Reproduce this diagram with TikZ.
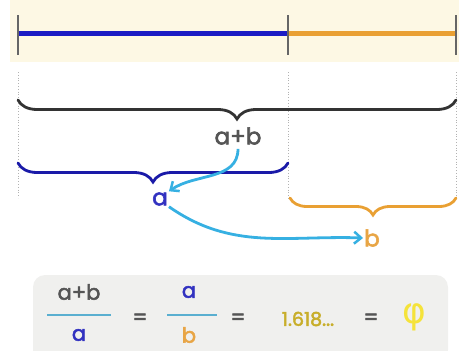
\documentclass[tikz,border=0pt]{standalone}
\usepackage{fontspec}
\setmainfont{Poppins}
\newfontfamily\labfont{Poppins}[FakeBold=2.5]
\newfontfamily\phifont{DejaVu Sans}
\usetikzlibrary{decorations.pathreplacing,arrows.meta}
\definecolor{cream}{HTML}{FDF8E4}
\definecolor{segblue}{HTML}{1C1CC4}
\definecolor{segorange}{HTML}{E9A033}
\definecolor{bracegray}{HTML}{333333}
\definecolor{braceblue}{HTML}{1A1AA8}
\definecolor{arrowcyan}{HTML}{36B0E2}
\definecolor{labgray}{HTML}{555555}
\definecolor{labblue}{HTML}{3232C0}
\definecolor{laborange}{HTML}{E8A545}
\definecolor{boxgray}{HTML}{F0F0EE}
\definecolor{fracline}{HTML}{5AAFD0}
\definecolor{olive}{HTML}{C8AE2A}
\definecolor{phiyellow}{HTML}{F5E33A}
\tikzset{
  tick/.style={draw=gray!80!black, line width=1.6pt},
  seg/.style={line width=5pt},
  guide/.style={draw=gray!60, dotted, line width=0.8pt},
  bracestyle/.style={decorate, decoration={brace, amplitude=#1}, line width=2.8pt, line cap=round},
  lab/.style={inner sep=1pt, font=\labfont\fontsize{23}{24}\selectfont},
  flow/.style={draw=arrowcyan, line width=2.8pt, -{Straight Barb[length=7pt,width=12pt,line width=2.5pt]}},
  eqtext/.style={inner sep=1pt, font=\labfont\fontsize{21}{22}\selectfont},
  fbar/.style={draw=fracline, line width=1.4pt},
}
\begin{document}
\begin{tikzpicture}[x=1pt,y=-1pt]
\useasboundingbox (0,0) rectangle (459,351);
% top band
\fill[cream] (10,0) rectangle (459,62);
\coordinate (A) at (18,33);
\coordinate (M) at (288,33);
\coordinate (B) at (456,33);
\draw[seg, segblue] (A) -- (M);
\draw[seg, segorange] (M) -- (B);
\draw[tick] (18,15) -- (18,55);
\draw[tick] (288,15) -- (288,55);
\draw[tick] (456,15) -- (456,55);
% dotted guides
\draw[guide] (18,72) -- (18,198);
\draw[guide] (288,72) -- (288,200);
\draw[guide] (456,72) -- (456,196);
% braces
\draw[bracestyle=19pt, bracegray] (456,100) -- (18,100);
\draw[bracestyle=19pt, braceblue] (288,163) -- (18,163);
\draw[bracestyle=17pt, segorange] (456,198) -- (290,198);
% labels
\node[lab, text=labgray] (ab) at (238,136) {a+b};
\node[lab, text=labblue] (a) at (160,199) {a};
\node[lab, text=laborange] (b) at (372,238) {b};
% arrows
\draw[flow] (ab.south) ++(0,3) to[out=-90,in=35] (a.north east);
\draw[flow] (a.south east) to[out=-35,in=178] (b.west);
% formula box
\fill[boxgray, rounded corners=12pt] (33,275) rectangle (448,362);
\node[eqtext, text=labgray] (n1) at (79,292) {a+b};
\node[eqtext, text=labblue] (d1) at (79,335) {a};
\draw[fbar] (47,315) -- (111,315);
\node[eqtext, text=labgray] (e1) at (140,319) {=};
\node[eqtext, text=labblue] (n2) at (189,292) {a};
\node[eqtext, text=laborange] (d2) at (189,335) {b};
\draw[fbar] (167,315) -- (217,315);
\node[eqtext, text=labgray] (e2) at (238,319) {=};
\node[inner sep=1pt, text=olive, font=\labfont\fontsize{19}{20}\selectfont] (num) at (308,319) {1.618...};
\node[eqtext, text=labgray] (e3) at (371,319) {=};
\node[inner sep=1pt, text=phiyellow, font=\phifont\fontsize{36}{38}\selectfont] (phi) at (414,317) {φ};
\end{tikzpicture}
\end{document}
